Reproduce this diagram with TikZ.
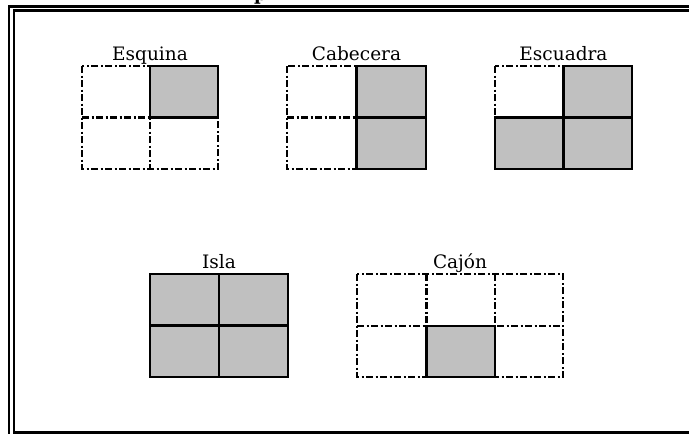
\documentclass[tikz,border=0pt]{standalone}
\usepackage{fontspec}
\setmainfont{DejaVu Serif}
\definecolor{cellgray}{HTML}{C0C0C0}
\begin{document}
\begin{tikzpicture}[x=1pt,y=-1pt,
  frameline/.style={line width=2.3pt},
  dashdot/.style={line width=2.4pt, dash pattern=on 7pt off 2.5pt on 2pt off 2.5pt},
  graycell/.style={fill=cellgray, draw=black, line width=2.5pt},
  lbl/.style={anchor=base, inner sep=0pt, font=\fontsize{18.5pt}{20pt}\selectfont},
  ttl/.style={anchor=base, inner sep=0pt, font=\fontsize{18pt}{20pt}\selectfont\bfseries}]
\useasboundingbox (0,0) rectangle (689,434);
% cut-off title
\node[ttl] (title) at (260.5,0) {p};
% double frame
\draw[frameline] (700,6.5) -- (9,6.5) -- (9,445);
\draw[frameline] (700,10.5) -- (14,10.5) -- (14,432.5) -- (700,432.5);
% ---------- Esquina ----------
\node[lbl] (esq) at (150,60.5) {Esquina};
\draw[dashdot] (82,66) rectangle (218,169);
\draw[dashdot] (150,66) -- (150,169);
\draw[dashdot] (82,117.5) -- (218,117.5);
\draw[graycell] (150,66) rectangle (218,117.5);
% ---------- Cabecera ----------
\node[lbl] (cab) at (356.5,60.5) {Cabecera};
\draw[dashdot] (287,66) rectangle (426,169);
\draw[dashdot] (287,117.5) -- (426,117.5);
\draw[graycell] (356.5,66) rectangle (426,117.5);
\draw[graycell] (356.5,117.5) rectangle (426,169);
% ---------- Escuadra ----------
\node[lbl] (escu) at (563.5,60.5) {Escuadra};
\draw[dashdot] (495,66) rectangle (632,169);
\draw[graycell] (563.5,66) rectangle (632,117.5);
\draw[graycell] (495,117.5) rectangle (563.5,169);
\draw[graycell] (563.5,117.5) rectangle (632,169);
% ---------- Isla ----------
\node[lbl] (isla) at (219,268) {Isla};
\draw[graycell] (150,274) rectangle (219,325.5);
\draw[graycell] (219,274) rectangle (288,325.5);
\draw[graycell] (150,325.5) rectangle (219,377);
\draw[graycell] (219,325.5) rectangle (288,377);
% ---------- Cajon ----------
\node[lbl] (cajon) at (460,268) {Cajón};
\draw[dashdot] (357,274) rectangle (563,377);
\draw[dashdot] (426.5,274) -- (426.5,377);
\draw[dashdot] (495,274) -- (495,377);
\draw[dashdot] (357,326) -- (563,326);
\draw[graycell] (426.5,326) rectangle (495,377);
\end{tikzpicture}
\end{document}
